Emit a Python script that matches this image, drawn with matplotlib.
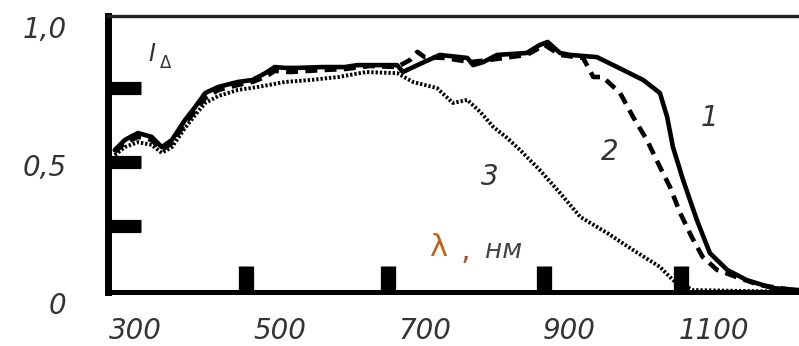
import numpy as np
import matplotlib
matplotlib.use("Agg")
import matplotlib.pyplot as plt

# spectra (wavelength in nm, relative intensity)
lam1 = [272, 286, 304, 323, 337, 351, 369, 383, 397, 415, 442, 462, 480, 493, 507, 525,
        558, 590, 607, 662, 670, 690, 721, 759, 767, 781, 800, 841, 859, 870, 887, 901,
        938, 966, 1002, 1025, 1035, 1043, 1057, 1076, 1094, 1118, 1145, 1181, 1217]
i1 = [0.514, 0.551, 0.576, 0.562, 0.525, 0.551, 0.623, 0.670, 0.721, 0.743, 0.761, 0.768,
      0.793, 0.815, 0.812, 0.812, 0.815, 0.815, 0.822, 0.822, 0.797, 0.822, 0.859, 0.848,
      0.822, 0.833, 0.859, 0.866, 0.895, 0.906, 0.866, 0.859, 0.851, 0.815, 0.768, 0.721,
      0.634, 0.525, 0.406, 0.261, 0.141, 0.080, 0.043, 0.014, 0.007]

lam2 = [272, 286, 304, 323, 337, 351, 369, 383, 397, 415, 442, 462, 480, 493, 514, 558,
        590, 625, 662, 680, 690, 700, 728, 763, 790, 841, 866, 887, 919, 933, 946, 970,
        988, 1007, 1025, 1039, 1053, 1069, 1084, 1104, 1131, 1163, 1209]
i2 = [0.507, 0.540, 0.562, 0.551, 0.514, 0.540, 0.609, 0.656, 0.703, 0.732, 0.750, 0.761,
      0.779, 0.801, 0.797, 0.804, 0.808, 0.819, 0.815, 0.841, 0.870, 0.851, 0.848, 0.833,
      0.841, 0.859, 0.895, 0.859, 0.848, 0.779, 0.779, 0.721, 0.634, 0.551, 0.453, 0.380,
      0.286, 0.199, 0.127, 0.080, 0.054, 0.025, 0.007]

lam3 = [272, 286, 304, 323, 337, 351, 369, 383, 397, 415, 442, 470, 507, 542, 581, 619,
        662, 684, 717, 739, 759, 777, 795, 814, 832, 859, 887, 915, 952, 988, 1025, 1043,
        1071, 1136, 1217]
i3 = [0.496, 0.525, 0.543, 0.533, 0.504, 0.525, 0.594, 0.641, 0.685, 0.710, 0.732, 0.743,
      0.761, 0.768, 0.779, 0.797, 0.793, 0.761, 0.739, 0.685, 0.696, 0.652, 0.598, 0.558,
      0.514, 0.442, 0.359, 0.272, 0.214, 0.152, 0.091, 0.043, 0.007, 0.004, 0.0]

x_labels = [300, 500, 700, 900, 1100]
x_marks = [453, 649, 865, 1054]
y_labels = [0, 0.5, 1.0]
y_marks = [0.24, 0.47, 0.74]

fig = plt.figure(figsize=(7.99, 3.46), dpi=100)
ax = fig.add_axes([108 / 799, 54 / 346, 691 / 799, 276 / 346])

ax.plot(lam1, i1, color="black", lw=3.3, solid_capstyle="round")
ax.plot(lam2, i2, color="black", lw=3.3, linestyle=(0, (2.6, 1.6)))
ax.plot(lam3, i3, color="black", lw=2.8, linestyle=(0, (0.6, 0.5)))

ax.set_xlim(262.7, 1217.1)
ax.set_ylim(0, 1.0)

ax.spines["right"].set_visible(False)
ax.spines["left"].set_linewidth(5)
ax.spines["bottom"].set_linewidth(3.6)
ax.spines["top"].set_linewidth(2.4)
ax.spines["top"].set_color("#222222")

# thick inward marks without labels, labels on zero-length minor ticks
ax.set_xticks(x_marks)
ax.set_xticklabels([])
ax.set_xticks(x_labels, minor=True)
ax.set_xticklabels([str(v) for v in x_labels], minor=True)
ax.set_yticks(y_marks)
ax.set_yticklabels([])
ax.set_yticks(y_labels, minor=True)
ax.set_yticklabels(["0", "0,5", "1,0"], minor=True)

ax.tick_params(axis="x", which="major", direction="in", length=19, width=11, color="black")
ax.tick_params(axis="y", which="major", direction="in", length=24, width=9.5, color="black")
ax.tick_params(axis="x", which="minor", length=0, pad=18, labelsize=20, labelcolor="#333333")
ax.tick_params(axis="y", which="minor", length=0, pad=30, labelsize=20, labelcolor="#333333")
for lbl in ax.get_xticklabels(minor=True) + ax.get_yticklabels(minor=True):
    lbl.set_fontstyle("italic")
for lbl in ax.get_yticklabels(minor=True):
    lbl.set_va("top")

tr = ax.transAxes
ax.text(0.871, 0.630, "1", transform=tr, fontsize=20, style="italic", color="#333333",
        ha="center", va="center")
ax.text(0.726, 0.507, "2", transform=tr, fontsize=20, style="italic", color="#333333",
        ha="center", va="center")
ax.text(0.553, 0.417, "3", transform=tr, fontsize=20, style="italic", color="#333333",
        ha="center", va="center")
ax.text(0.478, 0.163, "λ", transform=tr, fontsize=22, color="#c0641a", ha="center", va="center")
ax.text(0.517, 0.150, ",", transform=tr, fontsize=22, color="#9a5a30", ha="center", va="center")
ax.text(0.572, 0.150, "нм", transform=tr, fontsize=19, style="italic", color="#444444",
        ha="center", va="center")
ax.text(0.064, 0.862, "I", transform=tr, fontsize=17, style="italic", color="#333333",
        ha="center", va="center")
ax.text(0.084, 0.828, "Δ", transform=tr, fontsize=12, color="#333333", ha="center", va="center")

fig.savefig("out.png", dpi=100)
